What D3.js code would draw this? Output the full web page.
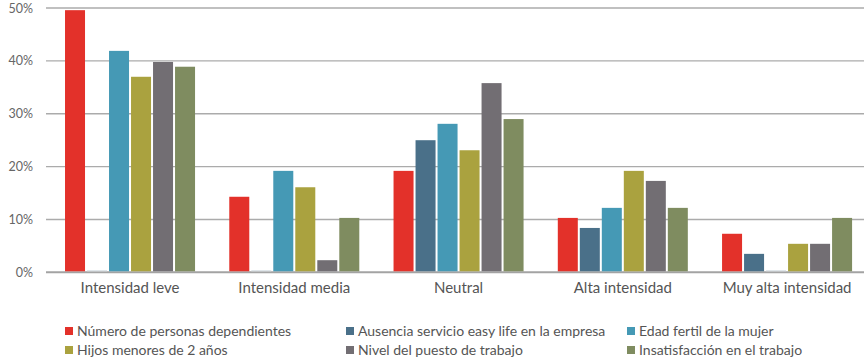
<!DOCTYPE html>
<html><head><meta charset="utf-8">
<script src="https://cdn.jsdelivr.net/npm/d3@7"></script>
<style>body{margin:0;background:#fff}svg{display:block}text{font-family:"Lato",sans-serif}</style>
</head><body><svg id="c" width="864" height="364"></svg>
<script>
const categories = ["Intensidad leve","Intensidad media","Neutral","Alta intensidad","Muy alta intensidad"];
const seriesNames = ["Número de personas dependientes","Ausencia servicio easy life en la empresa","Edad fertil de la mujer","Hijos menores de 2 años","Nivel del puesto de trabajo","Insatisfacción en el trabajo"];
const seriesColors = ["#E3312A","#4A7089","#4599B5","#AAA23F","#726E73","#7F8C60"];
const s1 = [49.4, 14.1, 19.0, 10.1, 7.1];
const s2 = [0.2, 0.2, 24.8, 8.2, 3.3];
const s3 = [41.7, 19.0, 27.9, 12.0, 0.2];
const s4 = [36.8, 15.9, 22.9, 19.0, 5.2];
const s5 = [39.6, 2.1, 35.6, 17.1, 5.2];
const s6 = [38.7, 10.1, 28.8, 12.0, 10.1];
const yTicks = [0,10,20,30,40,50];
const series = [s1,s2,s3,s4,s5,s6];

(function(){
const svg = d3.select("#c");
const pL = 46, pR = 864, pT = 8, pB = 272.3;
const x0 = d3.scaleBand().domain(categories).range([47.9,869.2]).paddingInner(0).paddingOuter(0);
const x1 = d3.scaleBand().domain(d3.range(6)).range([0,x0.bandwidth()]).paddingInner(0.0909).paddingOuter(0.778);
const y = d3.scaleLinear().domain([0,50]).range([pB,pT]);

svg.append("g").selectAll("line").data(yTicks).join("line")
  .attr("x1",pL).attr("x2",pR).attr("y1",d=>y(d)).attr("y2",d=>y(d))
  .attr("stroke",d=>d===0?"#a3a3a3":"#ababab").attr("stroke-width",d=>d===0?2:1.4);

const yAxis = d3.axisLeft(y).tickValues(yTicks).tickFormat(d=>d+"%").tickSize(0).tickPadding(0);
const ya = svg.append("g").attr("transform",`translate(33,0)`).call(yAxis);
ya.select(".domain").remove();
ya.selectAll("text").attr("font-size",12.5).attr("fill","#666").style("font-family","Lato");

const g = svg.append("g").selectAll("g").data(categories).join("g")
  .attr("transform",d=>`translate(${x0(d)},0)`);
g.selectAll("rect").data((c,ci)=>series.map((s,si)=>({si,v:s[ci]}))).join("rect")
  .attr("x",d=>x1(d.si)).attr("width",x1.bandwidth())
  .attr("y",d=>y(d.v)-1).attr("height",d=>Math.max(0,pB-1-(y(d.v)-1)))
  .attr("fill",d=>d.v<0.5?"#d5dde3":seriesColors[d.si]);

const xAxis = d3.axisBottom(x0).tickSize(0).tickPadding(0);
const xa = svg.append("g").attr("transform",`translate(0,288)`).call(xAxis);
xa.select(".domain").remove();
xa.selectAll("text").attr("font-size",15).attr("fill","#555").attr("dy","0.32em").style("font-family","Lato");

const legX = [65,346,627], legY = [331,350];
const lg = svg.append("g").selectAll("g").data(seriesNames).join("g")
  .attr("transform",(d,i)=>`translate(${legX[i%3]},${legY[Math.floor(i/3)]})`);
lg.append("rect").attr("x",0).attr("y",-4).attr("width",8).attr("height",8).attr("fill",(d,i)=>seriesColors[i]);
lg.append("text").attr("x",12).attr("y",0).attr("dy","0.35em").attr("font-size",14).attr("fill","#555").text(d=>d);
})();
</script></body></html>
